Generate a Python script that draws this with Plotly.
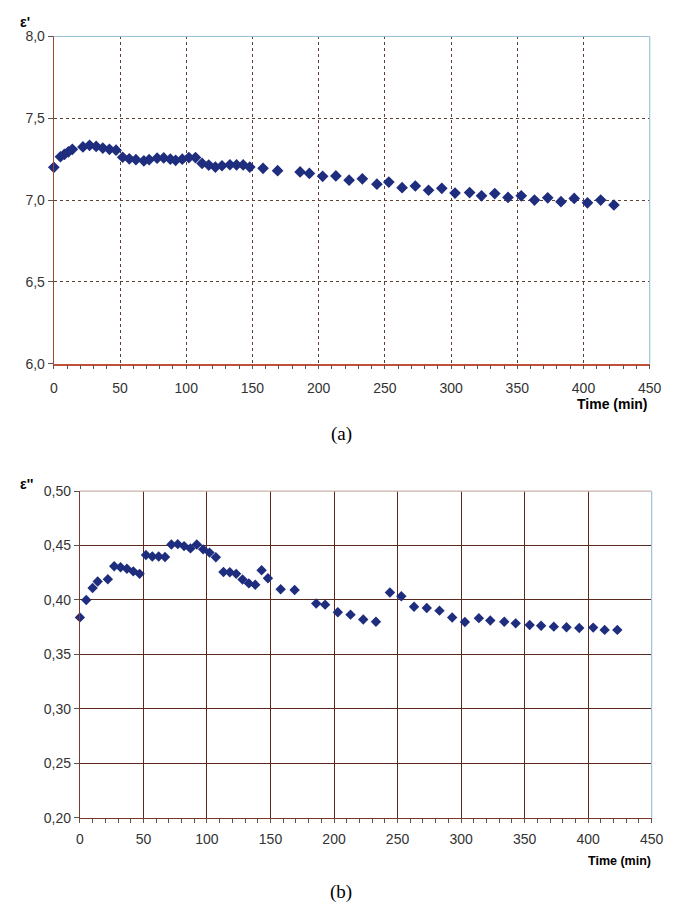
import plotly.graph_objects as go

# ---------------- data ----------------
time_a = [0, 5, 8, 11, 14, 22, 27, 32, 37, 42, 47, 52, 57, 62, 68, 72, 78, 83, 88, 92,
          97, 102, 107, 112, 117, 122, 127, 133, 138, 143, 148, 158, 169, 186, 193, 203,
          213, 223, 233, 244, 253, 263, 273, 283, 293, 303, 314, 323, 333, 343, 353, 363,
          373, 383, 393, 403, 413, 423]
eps_real = [7.20, 7.265, 7.28, 7.295, 7.31, 7.325, 7.335, 7.328, 7.318, 7.31, 7.305, 7.262,
            7.252, 7.247, 7.24, 7.247, 7.256, 7.258, 7.25, 7.243, 7.25, 7.26, 7.26, 7.224,
            7.214, 7.202, 7.21, 7.216, 7.215, 7.215, 7.202, 7.194, 7.18, 7.172, 7.163, 7.145,
            7.148, 7.122, 7.13, 7.097, 7.11, 7.076, 7.086, 7.06, 7.072, 7.043, 7.046, 7.026,
            7.04, 7.016, 7.026, 7.0, 7.014, 6.99, 7.01, 6.983, 7.0, 6.97]

time_b = [0, 5, 10, 14, 22, 27, 32, 37, 42, 47, 52, 57, 62, 67, 72, 77, 82, 87, 92, 97,
          102, 107, 113, 118, 123, 128, 133, 138, 143, 148, 158, 169, 186, 193, 203, 213,
          223, 233, 244, 253, 263, 273, 283, 293, 303, 314, 323, 334, 343, 354, 363, 373,
          383, 393, 404, 413, 423]
eps_imag = [0.384, 0.400, 0.411, 0.417, 0.419, 0.431, 0.430, 0.4287, 0.4263, 0.424,
            0.4413, 0.440, 0.440, 0.4395, 0.451, 0.4513, 0.4495, 0.4474, 0.451, 0.4465,
            0.4435, 0.4393, 0.4257, 0.4254, 0.424, 0.4188, 0.4152, 0.414, 0.4273, 0.420,
            0.4098, 0.4092, 0.3968, 0.3957, 0.3887, 0.3865, 0.382, 0.380, 0.4068, 0.4034,
            0.3937, 0.3926, 0.3902, 0.3839, 0.3797, 0.3833, 0.3812, 0.380, 0.3785, 0.377,
            0.3763, 0.3755, 0.375, 0.3743, 0.3746, 0.3725, 0.3725]

x_ticks = [0, 50, 100, 150, 200, 250, 300, 350, 400, 450]
ya_ticks = [6.0, 6.5, 7.0, 7.5, 8.0]
yb_ticks = [0.20, 0.25, 0.30, 0.35, 0.40, 0.45, 0.50]

# ---------------- layout helpers ----------------
W, H = 691, 918
def px(x): return x / W
def py(y): return 1 - y / H

MARK = "#1f2d7e"
GRID_A = "#5e4034"
GRID_B = "#5a2a1e"
AXIS_RED = "#c0503a"
BLUE = "#9cc3d8"
TICKFONT = dict(family="Liberation Sans, Arial, sans-serif", size=14, color="#333333")

fig = go.Figure()
fig.add_trace(go.Scatter(x=time_a, y=eps_real, mode="markers", xaxis="x", yaxis="y",
                         marker=dict(symbol="diamond", size=9, color=MARK),
                         cliponaxis=False, showlegend=False))
fig.add_trace(go.Scatter(x=time_b, y=eps_imag, mode="markers", xaxis="x2", yaxis="y2",
                         marker=dict(symbol="diamond", size=8, color=MARK),
                         cliponaxis=False, showlegend=False))

common_x = dict(range=[0, 450], tickvals=x_ticks, ticks="outside", ticklen=4,
                tickcolor="#555555", showline=True, tickfont=TICKFONT, zeroline=False,
                minor=dict(dtick=10, ticks="outside", ticklen=4, tickcolor="#555555",
                           showgrid=False))

fig.update_layout(
    width=W, height=H, paper_bgcolor="white", plot_bgcolor="white",
    margin=dict(l=0, r=0, t=0, b=0), separators=",.",
    xaxis=dict(domain=[px(51), px(661)], anchor="y", gridcolor=GRID_A, griddash="dot",
               gridwidth=1, linecolor=AXIS_RED, linewidth=1.5, ticklabelstandoff=7,
               **common_x),
    yaxis=dict(domain=[py(362), py(29)], anchor="x", range=[6, 8], tickvals=ya_ticks,
               tickformat=".1f", ticks="outside", ticklen=5, tickcolor="#555555",
               showline=True, linecolor="#9a4a30", linewidth=1.2, gridcolor=GRID_A,
               griddash="dot", gridwidth=1, tickfont=TICKFONT, zeroline=False),
    xaxis2=dict(domain=[px(77.7), px(663)], anchor="y2", gridcolor=GRID_B, gridwidth=1.2,
                linecolor="#7a3a2a", linewidth=1.2, ticklabelstandoff=4, **common_x),
    yaxis2=dict(domain=[py(824), py(491.7)], anchor="x2", range=[0.2, 0.5],
                tickvals=yb_ticks, tickformat=".2f", ticks="outside", ticklen=5,
                tickcolor="#555555", showline=True, linecolor="#7a3a2a", linewidth=1.2,
                gridcolor=GRID_B, gridwidth=1.2, tickfont=TICKFONT, zeroline=False),
)

# borders (top/right)
fig.add_shape(type="line", xref="x domain", yref="y domain", x0=0, x1=1, y0=1, y1=1,
              line=dict(color=BLUE, width=1.2), layer="above")
fig.add_shape(type="line", xref="x domain", yref="y domain", x0=1, x1=1, y0=0, y1=1,
              line=dict(color=BLUE, width=1.2), layer="above")
fig.add_shape(type="line", xref="x2 domain", yref="y2 domain", x0=0, x1=1, y0=1, y1=1,
              line=dict(color="#c9b3ac", width=1.2), layer="above")
fig.add_shape(type="line", xref="x2 domain", yref="y2 domain", x0=1, x1=1, y0=0, y1=1,
              line=dict(color=BLUE, width=1.2), layer="above")

bold = dict(family="Liberation Sans, Arial, sans-serif", color="black")
annots = [
    dict(x=px(14), y=py(14), text="<b>ε'</b>", xanchor="left", yanchor="middle",
         font=dict(size=14, **bold)),
    dict(x=px(661), y=py(403), text="<b>Time (min)</b>", xanchor="right", yanchor="middle",
         font=dict(size=14, **bold)),
    dict(x=px(14), y=py(484), text="<b>ε''</b>", xanchor="left", yanchor="middle",
         font=dict(size=14, **bold)),
    dict(x=px(664), y=py(868), text="<b>Time (min)</b>", xanchor="right", yanchor="middle",
         font=dict(size=12.5, **bold)),
    dict(x=px(345), y=py(434), text="(a)", xanchor="center", yanchor="middle",
         font=dict(family="Liberation Serif, DejaVu Serif, serif", size=19, color="black")),
    dict(x=px(345), y=py(900), text="(b)", xanchor="center", yanchor="middle",
         font=dict(family="Liberation Serif, DejaVu Serif, serif", size=19, color="black")),
]
for a in annots:
    fig.add_annotation(xref="paper", yref="paper", showarrow=False, **a)

fig.write_html("out.html", config={"displayModeBar": False},
               post_script="document.body.style.margin='0px';"
                           "document.body.style.overflow='hidden';")
